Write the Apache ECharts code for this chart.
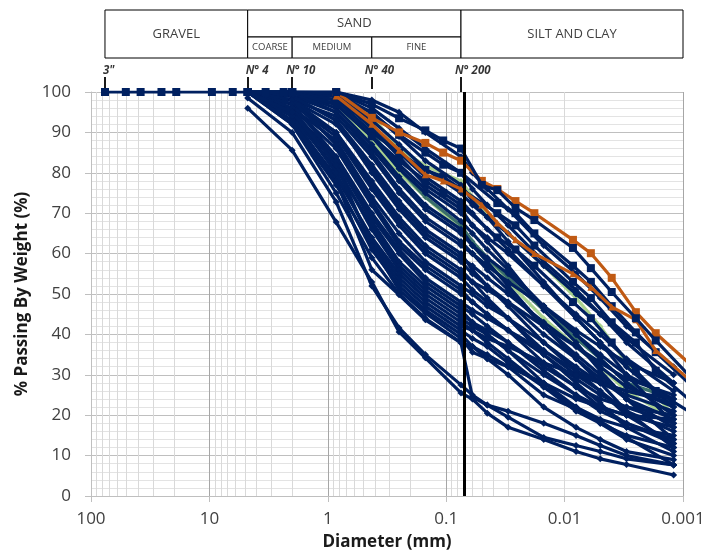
<!DOCTYPE html>
<html><head><meta charset="utf-8">
<script src="https://cdn.jsdelivr.net/npm/echarts@6/dist/echarts.min.js"></script>
<style>html,body{margin:0;padding:0;background:#fff}#c{width:719px;height:552px}</style>
</head><body><div id="c"></div>
<script>
// ---------- DATA ----------
const xTickLabels = ['100', '10', '1', '0.1', '0.01', '0.001'];
const sieveNames = ['3"', 'N° 4', 'N° 10', 'N° 40', 'N° 200'];
const sieveSizes = [76.2, 4.75, 2.0, 0.425, 0.075];

// full curve with coarse sieves (top navy curve, square markers)
const topCurveDiam = [76.2, 50.8, 38.1, 25.4, 19.05, 9.525, 6.35, 4.75, 3.35, 2.36, 2.0, 0.85, 0.425, 0.25, 0.15, 0.106, 0.075, 0.05, 0.037, 0.026, 0.018, 0.0085, 0.006, 0.004, 0.0025, 0.0017, 0.0009];
const topCurveVals = [100, 100, 100, 100, 100, 100, 100, 100, 100, 100, 100, 100, 97, 93.5, 90.5, 88, 86, 77, 75.7, 71.3, 68.3, 61.4, 56.4, 50.5, 44, 38.5, 30];

// square-marker curves
const squareDiam = [4.75, 2.0, 0.85, 0.425, 0.25, 0.15, 0.106, 0.075, 0.037, 0.026, 0.018, 0.0085, 0.006, 0.004, 0.0025, 0.0017, 0.0009];
const navySquareCurves = [
  [100, 100, 99.7, 94.8, 89.4, 85, 82, 80, 72.5, 70, 65, 57, 53, 47, 40.5, 35.6, 28],
  [100, 100, 98, 90, 85, 80.7, 79, 76, 70, 67, 62, 53, 49, 43, 38, 31, 24],
  [100, 100, 97, 89, 83, 78, 75, 72, 64, 61, 57, 48, 44, 38, 31, 26, 21]
];

// orange curves
const orangeDiam = [0.85, 0.425, 0.25, 0.15, 0.106, 0.075, 0.05, 0.037, 0.026, 0.018, 0.0085, 0.006, 0.004, 0.0025, 0.0017, 0.0009];
const orangeCurve1 = [100, 93.6, 90, 87.4, 85, 83, 78, 76, 73, 70, 63.4, 60.1, 54, 45.5, 40.3, 33];
const orangeCurve2 = [99, 92, 85.6, 79.5, 78, 76, 72, 67.6, 63.4, 60, 55, 51.7, 46.8, 43.6, 36, 29];

// diamond-marker curves
const diamondDiam = [4.75, 2.0, 0.85, 0.425, 0.25, 0.15, 0.075, 0.06, 0.045, 0.03, 0.015, 0.008, 0.005, 0.003, 0.0012];
const greenCurves = [
  [100, 100, 99, 94, 86, 81.7, 78, 74, 70, 65, 57, 49, 42, 33, 20],
  [100, 100, 97, 88, 80, 74, 66, 62, 58, 53, 44, 37, 32, 26, 19]
];
const tealCurve = [100, 100, 98, 90, 81, 74, 67, 63, 59, 54, 46, 39, 34, 28, 24];
const navyDiamondCurves = [
  [100, 100, 100, 98, 95, 90, 84, 80, 76, 71, 62, 55, 49, 42, 32],
  [100, 100, 100, 96, 91, 86, 80, 76, 72, 67, 58, 51, 45, 38, 28],
  [100, 100, 99, 95, 89, 83, 77, 73, 69, 63, 53, 44, 38, 30, 18],
  [100, 100, 99, 93, 87, 81, 75, 72, 69, 65, 57, 50, 45, 39, 30],
  [100, 100, 98, 92, 85, 79, 73, 70, 66, 61, 52, 44, 38, 32, 22],
  [100, 100, 99, 91, 84, 77, 71, 67, 63, 57, 46, 38, 31, 24, 14],
  [100, 100, 97, 89, 82, 76, 70, 67, 64, 60, 52, 45, 40, 34, 26],
  [100, 99, 97, 89, 81, 75, 68, 65, 61, 56, 47, 40, 34, 28, 20],
  [100, 100, 96, 87, 79, 72, 66, 62, 58, 52, 42, 34, 28, 21, 12],
  [100, 99, 95, 86, 78, 71, 65, 62, 59, 55, 47, 40, 35, 30, 24],
  [100, 100, 95, 85, 76, 69, 63, 60, 56, 51, 42, 35, 30, 24, 17],
  [100, 98, 94, 84, 75, 68, 62, 60, 57, 53, 47, 41, 37, 33, 28],
  [100, 99, 93, 82, 73, 66, 60, 56, 52, 47, 38, 31, 26, 20, 13],
  [100, 98, 92, 81, 72, 65, 59, 57, 54, 50, 43, 37, 32, 27, 22],
  [100, 99, 93, 80, 71, 64, 58, 55, 52, 48, 40, 34, 29, 24, 19],
  [100, 97, 90, 78, 69, 62, 56, 53, 49, 44, 35, 28, 23, 17, 11],
  [100, 98, 90, 77, 68, 61, 55, 53, 51, 48, 42, 37, 33, 29, 25],
  [100, 97, 89, 76, 67, 60, 54, 51, 48, 44, 36, 30, 26, 21, 16],
  [100, 96, 88, 74, 65, 58, 52, 50, 47, 44, 38, 32, 28, 25, 21],
  [100, 98, 87, 73, 63, 57, 51, 48, 45, 41, 33, 27, 22, 18, 13],
  [100, 96, 86, 72, 62, 56, 50, 48, 45, 41, 35, 29, 25, 22, 18],
  [100, 95, 84, 70, 61, 54, 48, 46, 44, 41, 36, 31, 28, 26, 23],
  [100, 97, 84, 69, 60, 53, 47, 45, 42, 38, 31, 25, 21, 18, 14],
  [100, 95, 83, 68, 58, 52, 46, 43, 40, 36, 28, 22, 18, 14, 10],
  [100, 94, 81, 67, 57, 51, 45, 43, 41, 38, 32, 27, 24, 22, 20],
  [100, 96, 82, 66, 56, 50, 44, 42, 40, 36, 30, 25, 22, 20, 17],
  [100, 93, 79, 64, 55, 49, 43, 41, 38, 34, 27, 21, 18, 15, 12],
  [100, 95, 80, 63, 54, 48, 42, 41, 39, 37, 33, 30, 28, 26, 24],
  [100, 92, 77, 62, 53, 47, 41, 39, 37, 33, 27, 22, 19, 17, 15],
  [100, 94, 78, 61, 52, 46, 40, 37, 34, 30, 22, 17, 14, 11, 9],
  [100, 92, 75, 59, 50, 44, 38, 37, 35, 32, 28, 24, 22, 20, 19],
  [100, 92.5, 78, 56, 49.8, 43.6, 37.9, 24.5, 22.5, 21, 18, 15, 12.5, 10, 7.7],
  [100, 95, 82, 62, 51, 45.3, 39, 35.6, 34, 32, 25, 21.5, 18.5, 14.5, 7.7],
  [98.5, 90, 72.8, 52, 41.6, 35, 27.5, 25, 22.5, 19.5, 14.5, 12.5, 11, 9.2, 7.7],
  [96, 85.6, 67.8, 53, 40.6, 34.2, 25.5, 24, 20.5, 17, 14, 11, 9.2, 7.8, 5.2]
];

// header table
const headerNames = ['GRAVEL', 'SAND', 'COARSE', 'MEDIUM', 'FINE', 'SILT AND CLAY'];
const headerFrom = [76.2, 4.75, 4.75, 2.0, 0.425, 0.075];
const headerTo = [4.75, 0.075, 2.0, 0.425, 0.075, 0.001];

// ---------- CHART ----------
const FONT = '"Open Sans", "Noto Sans", sans-serif';
const NAVY = '#002060', ORANGE = '#c05a14', GREEN = '#a9d18e', TEAL = '#3a6f6a';
const pairs = (d, v) => v.map((y, i) => [d[i], y]);

const series = [];
// minor vertical grid lines (log 2..9)
const minorX = [];
[0.001, 0.01, 0.1, 1, 10].forEach(dec => { for (let m = 2; m <= 9; m++) minorX.push({ xAxis: +(m * dec).toPrecision(3) }); });
series.push({
  type: 'line', data: [], xAxisIndex: 0, yAxisIndex: 0, silent: true, z: 1,
  markLine: { silent: true, z: 1, animation: false, symbol: ['none', 'none'], label: { show: false },
    lineStyle: { color: '#d9d9d9', width: 1, type: 'solid' }, emphasis: { disabled: true }, data: minorX }
});

function lineSeries(d, v, color, symbol, size, z, width) {
  return { type: 'line', data: pairs(d, v), xAxisIndex: 0, yAxisIndex: 0, z: z, silent: true,
    symbol: symbol, symbolSize: size, showSymbol: true,
    lineStyle: { color: color, width: width || 3.2 }, itemStyle: { color: color }, animation: false };
}
greenCurves.forEach(v => series.push(lineSeries(diamondDiam, v, GREEN, 'diamond', 6, 2)));
series.push(lineSeries(diamondDiam, tealCurve, TEAL, 'diamond', 6, 2));
navyDiamondCurves.forEach(v => series.push(lineSeries(diamondDiam, v, NAVY, 'diamond', 7, 3)));
navySquareCurves.forEach(v => series.push(lineSeries(squareDiam, v, NAVY, 'rect', 8, 3)));
series.push(lineSeries(orangeDiam, orangeCurve2, ORANGE, 'triangle', 7, 4));
series.push(lineSeries(orangeDiam, orangeCurve1, ORANGE, 'rect', 8, 4));
series.push(lineSeries(topCurveDiam, topCurveVals, NAVY, 'rect', 8, 5));

// N° 200 thick line
series.push({
  type: 'line', data: [], xAxisIndex: 0, yAxisIndex: 0, z: 10, silent: true,
  markLine: { silent: true, z: 10, animation: false, symbol: ['none', 'none'], label: { show: false },
    lineStyle: { color: '#000', width: 3, type: 'solid' }, data: [{ xAxis: 0.075 }] }
});

// header table + sieve ticks (grid 1, y in px above plot top)
const headerCells = headerNames.map((n, i) => {
  const small = (i >= 2 && i <= 4);
  const y0 = small ? 34 : (i === 1 ? 55 : 34);
  const y1 = small ? 55 : 82;
  return [{ name: n, xAxis: headerFrom[i], yAxis: y0, label: { fontSize: small ? 9.5 : 13 } }, { xAxis: headerTo[i], yAxis: y1 }];
});
series.push({
  type: 'line', data: [], xAxisIndex: 1, yAxisIndex: 1, silent: true, z: 5,
  markArea: { silent: true, z: 5, animation: false,
    itemStyle: { color: '#ffffff', borderColor: '#000', borderWidth: 1 },
    label: { show: true, position: 'inside', color: '#404040', fontFamily: FONT },
    emphasis: { disabled: true }, data: headerCells },
  markLine: { silent: true, z: 5, animation: false, symbol: ['none', 'none'], label: { show: false },
    lineStyle: { color: '#000', width: 1.8, type: 'solid' },
    data: sieveSizes.map(s => [{ coord: [s, 15] }, { coord: [s, s === 0.075 ? 0 : 3] }]) }
});
const sieveOffsets = [-2, -2, -6, -7, -6];
series.push({
  type: 'scatter', xAxisIndex: 1, yAxisIndex: 1, silent: true, symbolSize: 0, z: 6, animation: false,
  data: sieveSizes.map((s, i) => ({ value: [s, 21], name: sieveNames[i], label: { offset: [sieveOffsets[i], 0] } })),
  label: { show: true, position: 'right', distance: 0, formatter: p => p.name,
    fontStyle: 'italic', fontWeight: 'bold', fontSize: 11.5, color: '#000', fontFamily: FONT }
});

const option = {
  animation: false,
  backgroundColor: '#ffffff',
  textStyle: { fontFamily: FONT },
  grid: [
    { left: 91, right: 36, top: 92, bottom: 56, containLabel: false, outerBoundsMode: 'none' },
    { left: 91, right: 36, top: 10, height: 82, containLabel: false, outerBoundsMode: 'none' }
  ],
  xAxis: [
    { type: 'log', logBase: 10, min: 0.001, max: 100, inverse: true, gridIndex: 0,
      name: 'Diameter (mm)', nameLocation: 'middle', nameGap: 38,
      nameTextStyle: { fontSize: 17, fontWeight: 'bold', color: '#1a1a1a', fontFamily: FONT },
      axisLine: { show: true, lineStyle: { color: '#bfbfbf', width: 1 } },
      axisTick: { show: true, length: 6, lineStyle: { color: '#bfbfbf' } },
      axisLabel: { fontSize: 17, color: '#404040', margin: 15, fontFamily: FONT,
        formatter: v => xTickLabels[2 - Math.round(Math.log10(v))] },
      splitLine: { show: true, lineStyle: { color: '#a6a6a6', width: 1 } },
      minorTick: { show: false }, minorSplitLine: { show: false } },
    { type: 'log', logBase: 10, min: 0.001, max: 100, inverse: true, gridIndex: 1, show: false }
  ],
  yAxis: [
    { type: 'value', min: 0, max: 100, interval: 10, gridIndex: 0,
      name: '% Passing By Weight (%)', nameLocation: 'middle', nameGap: 52, nameRotate: 90,
      nameTextStyle: { fontSize: 17, fontWeight: 'bold', color: '#1a1a1a', fontFamily: FONT },
      axisLine: { show: true, lineStyle: { color: '#bfbfbf', width: 1 } },
      axisTick: { show: true, length: 6, lineStyle: { color: '#bfbfbf' } },
      axisLabel: { fontSize: 17, color: '#404040', margin: 20, fontFamily: FONT },
      splitLine: { show: true, lineStyle: { color: '#bfbfbf', width: 1 } },
      minorTick: { show: false, splitNumber: 5 },
      minorSplitLine: { show: true, lineStyle: { color: '#e3e3e3', width: 1 } } },
    { type: 'value', min: 0, max: 82, gridIndex: 1, show: false }
  ],
  series: series
};
const chart = echarts.init(document.getElementById('c'), null, { renderer: 'canvas' });
chart.setOption(option);
</script></body></html>
